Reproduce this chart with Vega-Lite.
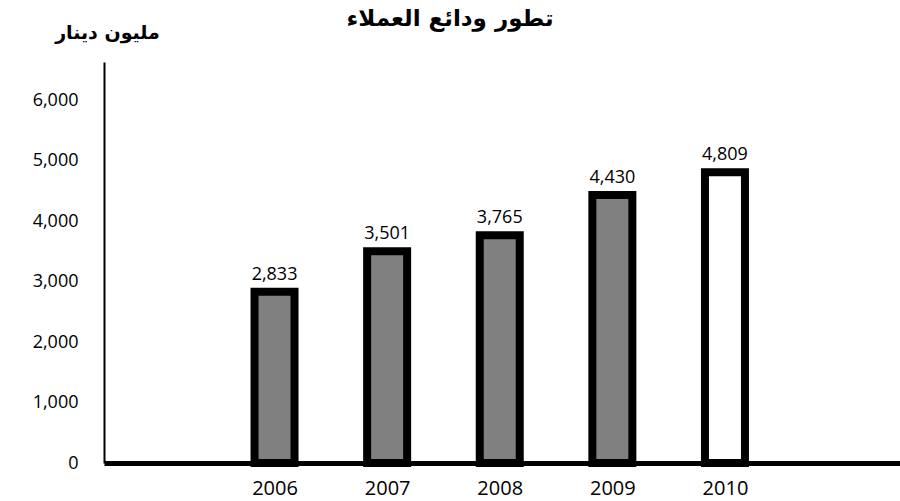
{
  "$schema": "https://vega.github.io/schema/vega-lite/v6.json",
  "width": 796,
  "height": 401,
  "autosize": {"type": "none"},
  "padding": {"left": 104, "top": 62, "right": 0, "bottom": 38},
  "background": "white",
  "title": {
    "text": "تطور ودائع العملاء",
    "font": "DejaVu Sans",
    "fontSize": 23,
    "fontWeight": "bold",
    "anchor": "middle",
    "dx": -52,
    "offset": -8,
    "color": "black"
  },
  "data": {
    "values": [
      {"year": 2006, "value": 2833},
      {"year": 2007, "value": 3501},
      {"year": 2008, "value": 3765},
      {"year": 2009, "value": 4430},
      {"year": 2010, "value": 4809}
    ]
  },
  "config": {"view": {"stroke": null}},
  "encoding": {
    "x": {
      "field": "year",
      "type": "quantitative",
      "scale": {"domain": [2004.53, 2011.51], "nice": false, "zero": false},
      "axis": {
        "values": [2006, 2007, 2008, 2009, 2010],
        "format": "d",
        "title": null,
        "grid": false,
        "ticks": false,
        "domainColor": "black",
        "domainWidth": 5,
        "labelFont": "Open Sans",
        "labelFontSize": 20,
        "labelFontWeight": "normal",
        "labelColor": "black",
        "labelPadding": 15
      }
    },
    "y": {
      "field": "value",
      "type": "quantitative",
      "scale": {"domain": [0, 6630], "nice": false},
      "axis": {
        "values": [0, 1000, 2000, 3000, 4000, 5000, 6000],
        "format": ",d",
        "grid": false,
        "ticks": false,
        "domainColor": "black",
        "domainWidth": 2,
        "labelFont": "Open Sans",
        "labelFontSize": 18,
        "labelColor": "black",
        "labelPadding": 26,
        "title": "مليون دينار",
        "titleFont": "DejaVu Sans",
        "titleFontSize": 19,
        "titleFontWeight": "bold",
        "titleColor": "black",
        "titleAngle": 0,
        "titleAlign": "center",
        "titleBaseline": "middle",
        "titleX": 3,
        "titleY": -30
      }
    }
  },
  "layer": [
    {
      "mark": {"type": "bar", "size": 40, "stroke": "black", "strokeWidth": 8},
      "encoding": {
        "fill": {
          "condition": {"test": "datum.year == 2010", "value": "white"},
          "value": "#808080"
        }
      }
    },
    {
      "mark": {"type": "text", "baseline": "bottom", "dy": -8, "font": "Open Sans", "fontSize": 18, "color": "black"},
      "encoding": {
        "text": {"field": "value", "type": "quantitative", "format": ","}
      }
    }
  ]
}
